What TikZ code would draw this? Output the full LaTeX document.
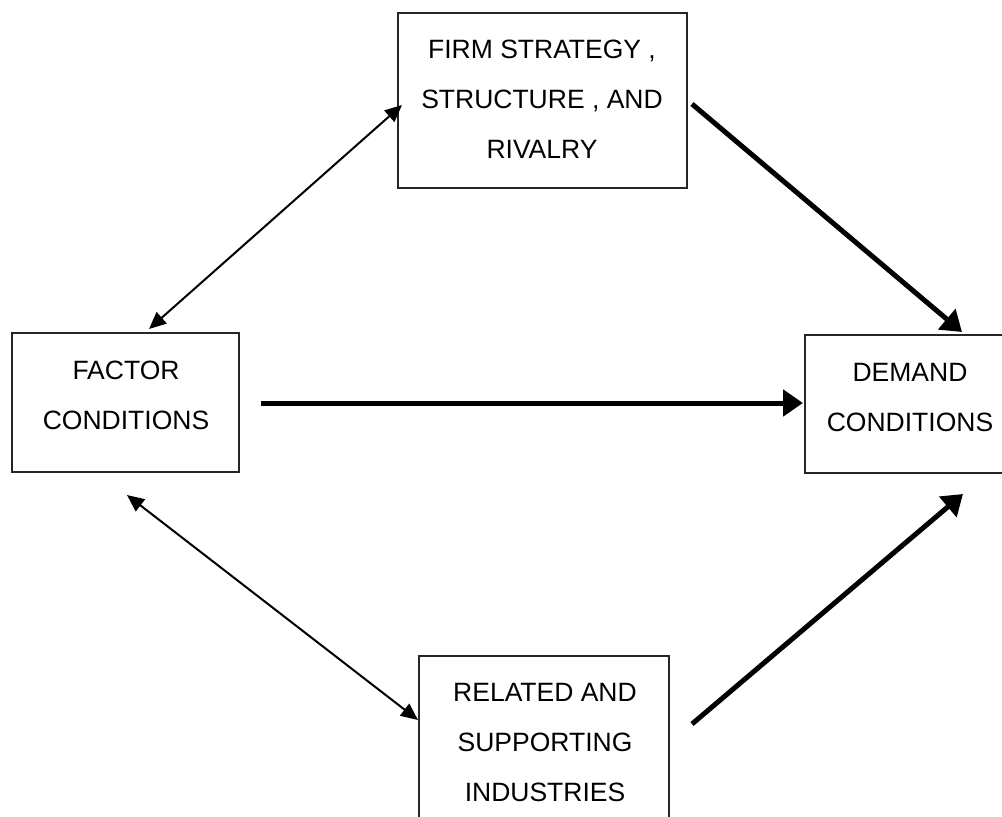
\documentclass[tikz,border=0pt]{standalone}
\usepackage{fontspec}
\setmainfont{Liberation Sans}
\usetikzlibrary{arrows.meta}
\begin{document}
\begin{tikzpicture}[x=1pt,y=-1pt,
  boxnode/.style={draw=black!85, line width=2pt, rectangle, inner sep=0pt},
  txt/.style={align=center, font=\fontsize{26.5}{50}\selectfont, inner sep=0pt},
  thickarrow/.style={line width=5pt, -{Triangle[length=20pt,width=26pt]}},
  thinarrow/.style={line width=2pt, {Triangle[length=17pt,width=15pt]}-{Triangle[length=17pt,width=15pt]}}]
\useasboundingbox (0,0) rectangle (1002,817);
% boxes
\node[boxnode, minimum width=289pt, minimum height=175pt] (firmbox) at (542.5,100.5) {};
\node[boxnode, minimum width=227pt, minimum height=139pt] (factbox) at (125.5,402.5) {};
\node[boxnode, minimum width=205pt, minimum height=138pt] (demandbox) at (907.5,404) {};
\node[boxnode, minimum width=250pt, minimum height=174pt] (relbox) at (544,743) {};
% texts
\node[txt] (firm) at (542,99) {FIRM STRATEGY ,\\STRUCTURE , AND\\RIVALRY};
\node[txt] (fact) at (126,395) {FACTOR\\CONDITIONS};
\node[txt] (demand) at (910,397.5) {DEMAND\\CONDITIONS};
\node[txt] (rel) at (545,743) {RELATED AND\\SUPPORTING\\INDUSTRIES};
% connector end points
\coordinate (a1) at (149,329);
\coordinate (a2) at (402,105);
\coordinate (b1) at (692,104);
\coordinate (b2) at (962,332);
\coordinate (c1) at (261,403);
\coordinate (c2) at (803,403);
\coordinate (d1) at (127,495);
\coordinate (d2) at (418,720);
\coordinate (e1) at (692,724);
\coordinate (e2) at (963,494);
% connectors
\draw[thinarrow] (a1) -- (a2);
\draw[thickarrow] (b1) -- (b2);
\draw[thickarrow] (c1) -- (c2);
\draw[thinarrow] (d1) -- (d2);
\draw[thickarrow] (e1) -- (e2);
\end{tikzpicture}
\end{document}
